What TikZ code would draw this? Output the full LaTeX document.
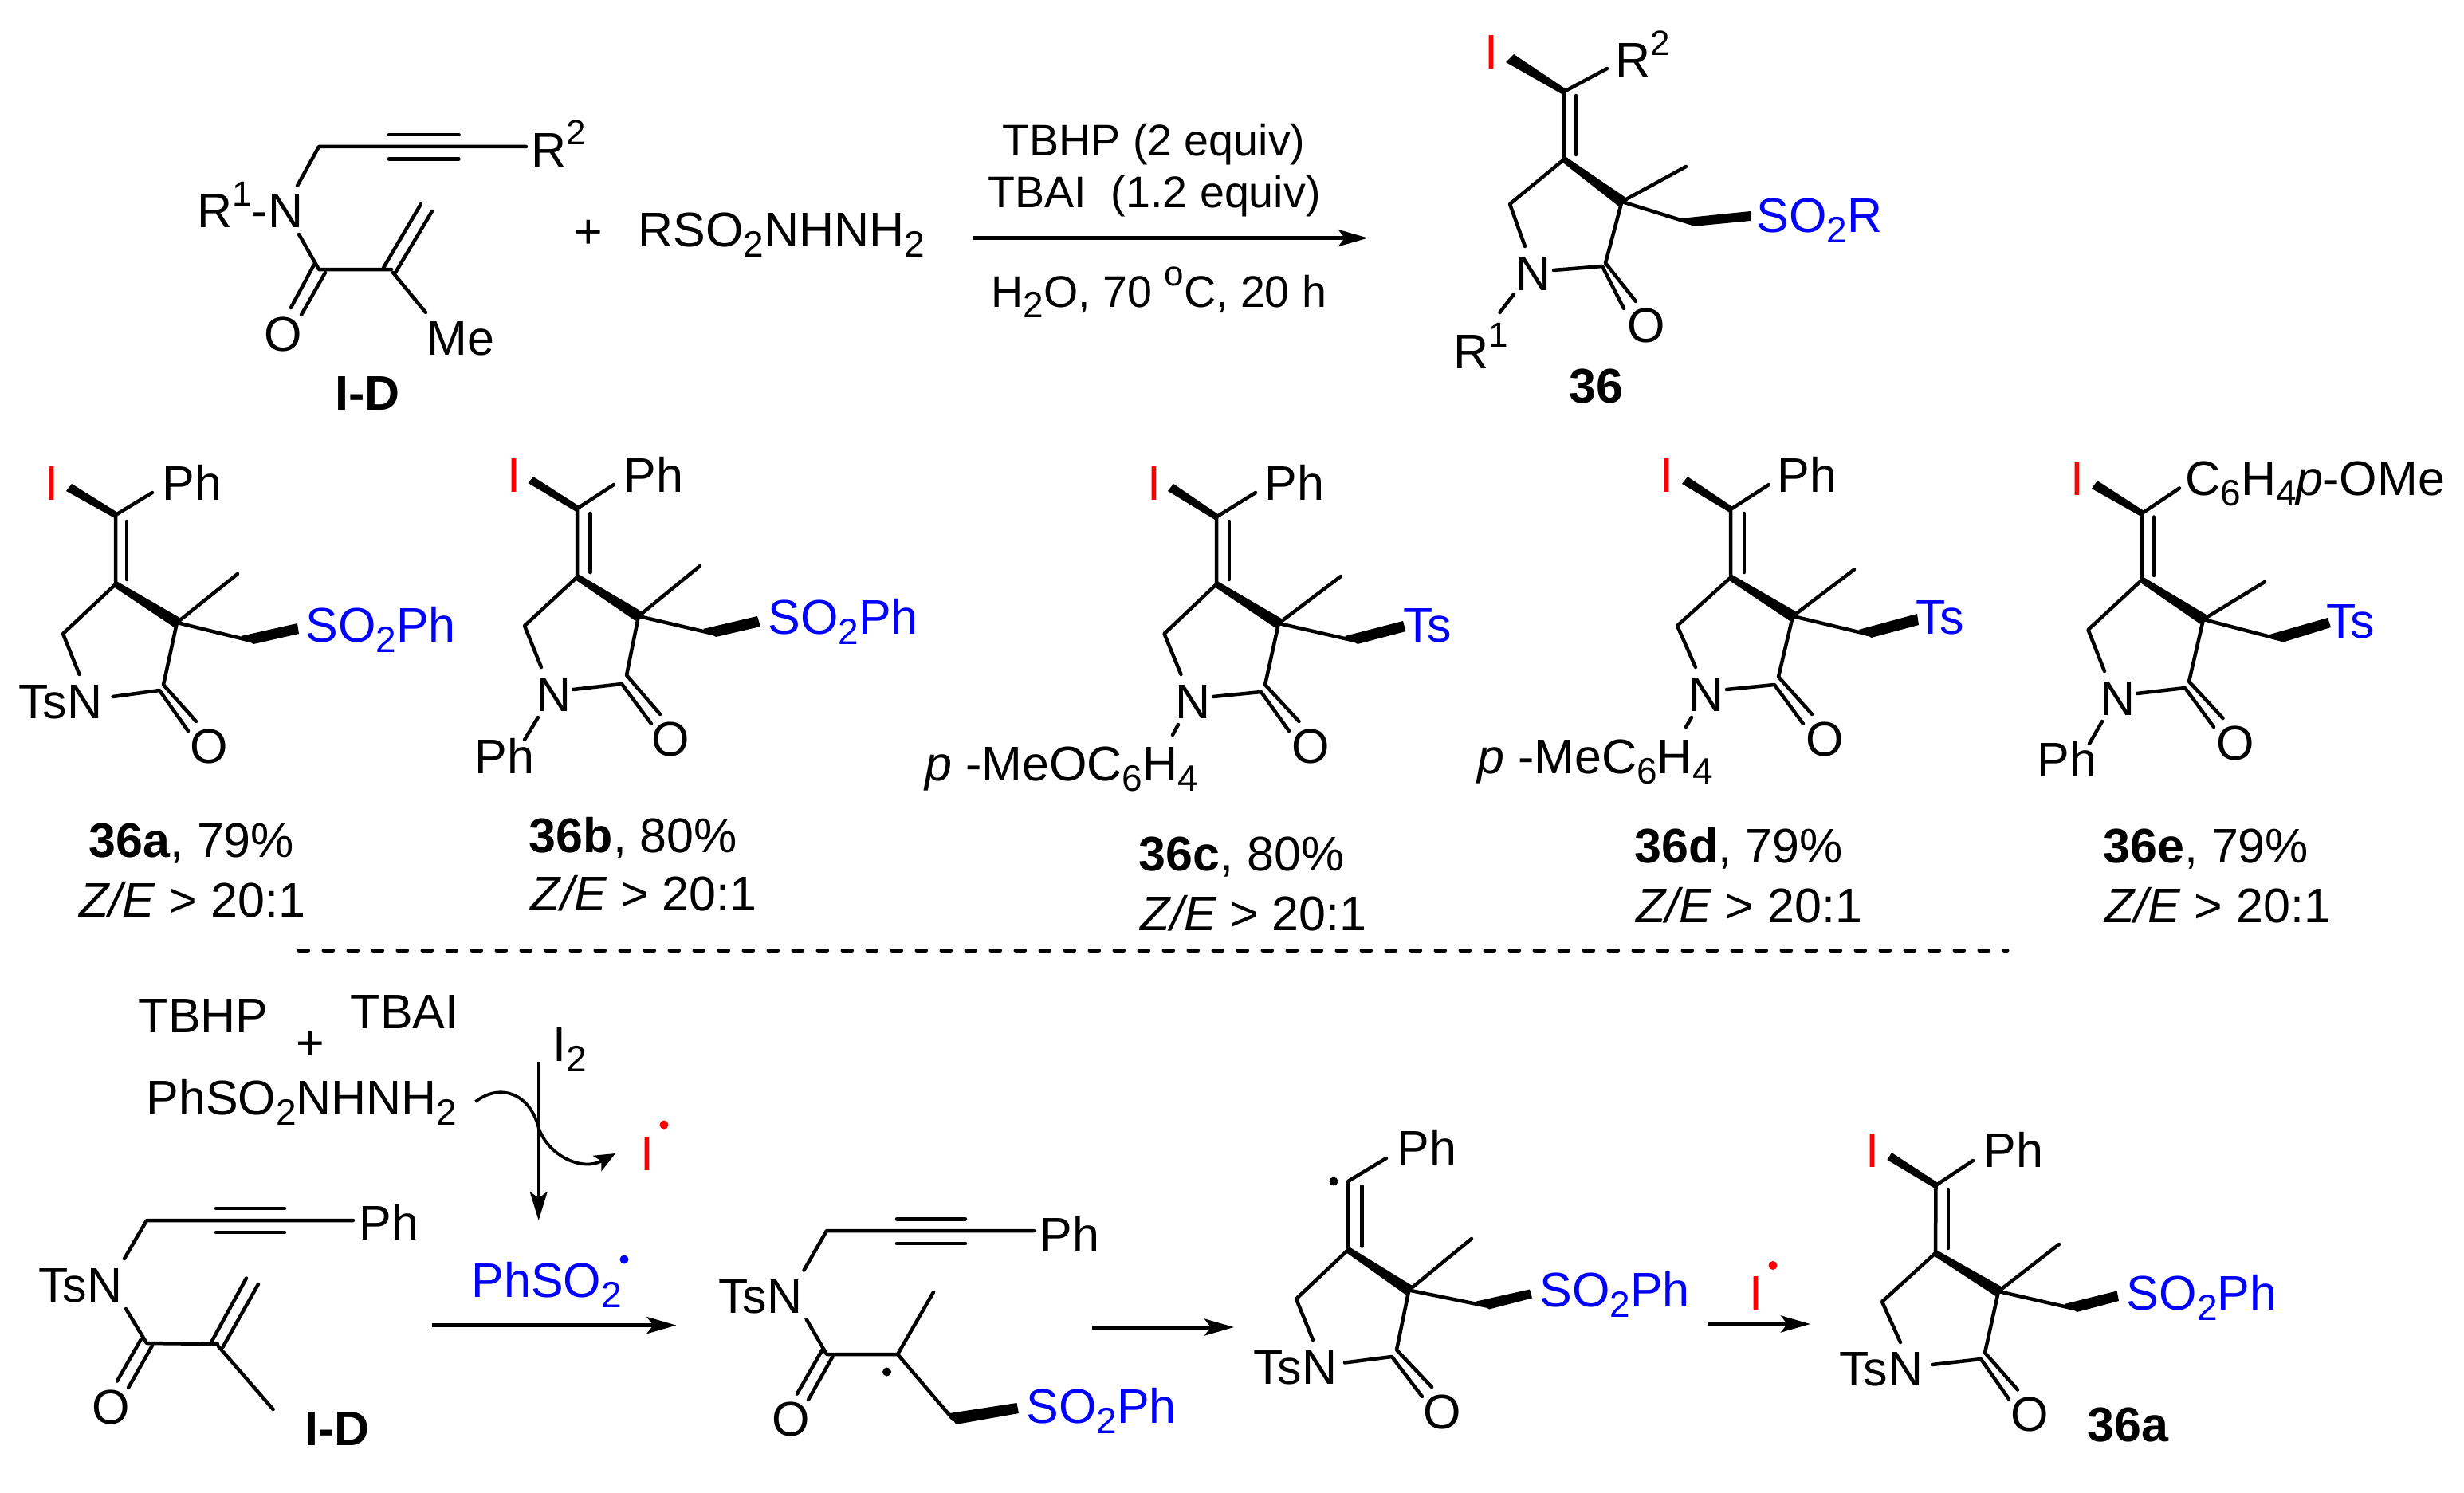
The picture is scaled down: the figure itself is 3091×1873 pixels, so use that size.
\documentclass[tikz,border=0pt]{standalone}
\usepackage{fontspec}
\setmainfont{Liberation Sans}
\usetikzlibrary{arrows.meta,calc}
\definecolor{chemblue}{RGB}{0,0,255}
\definecolor{chemred}{RGB}{255,0,0}
\newcommand\sbdn[1]{\raisebox{-6.5pt}{\fontsize{23}{23}\selectfont #1}}
\newcommand\sbup[1]{\raisebox{13.5pt}{\fontsize{22}{22}\selectfont #1}}
\newcommand\lab[4][]{\node[lbl,#1] (#2) at (#3) {#4};}
\newcommand\pts[2]{\foreach \n/\x/\y in {#2}{\coordinate (#1\n) at (\x,\y);}}
\newcommand\ringbonds[1]{%
  \draw[bond] (#1Ra) -- (#1Cv) -- (#1Cr) -- (#1Cl) -- (#1Nt);
  \draw[bond] (#1Da) -- (#1Db);
  \draw[bond] (#1Cq) -- (#1Cc) -- (#1Oa);
  \draw[bond] (#1Nr) -- (#1Cb) -- (#1Ob);
  \draw[bond] (#1Me) -- (#1Cq) -- (#1Cm);
  \fill ($(#1Cr)!2pt!90:(#1Cq)$) -- ($(#1Cq)!3.5pt!-90:(#1Cr)$) -- ($(#1Cq)!3.5pt!90:(#1Cr)$) -- ($(#1Cr)!2pt!-90:(#1Cq)$) -- cycle;
  \fill ($(#1Cm)+(-13,-6)$) -- (#1Wc) -- ($(#1Wd)+(0,-2)$) -- ($(#1Cm)+(3,4)$) -- cycle;
}
\newcommand\iw[1]{\fill ($(#1Cv)!2pt!90:(#1Wa)$) -- (#1Wa) -- (#1Wb) -- ($(#1Cv)!2pt!-90:(#1Wa)$) -- cycle;}
\tikzset{
  lbl/.style={anchor=base west,inner sep=0pt,xshift=-1pt,font=\fontsize{30.5}{36}\selectfont},
  rx/.style={font=\fontsize{27.8}{33}\selectfont},
  cen/.style={anchor=base,xshift=1pt},
  mid/.style={anchor=center,xshift=1pt},
  ze/.style={xshift=1pt},
  blu/.style={text=chemblue},
  rd/.style={text=chemred},
  bond/.style={line width=2.25pt,line cap=round,line join=round},
  rxnarrow/.style={line width=2.5pt,-{Stealth[length=18.5pt,width=10.5pt,inset=4pt]}},
  thinarrow/.style={line width=1.7pt,-{Stealth[length=18pt,width=11pt,inset=4pt]}},
  curvearrow/.style={line width=1.9pt,-{Stealth[length=13pt,width=11pt,inset=3pt]}},
  radical/.style={circle,inner sep=0pt,minimum size=5.5pt,fill=#1},
}
\begin{document}
\begin{tikzpicture}[x=0.5pt,y=-0.5pt]
\useasboundingbox (0,0) rectangle (3091,1873);
% ---------- top left I-D
\pts{s}{Na/373/233,Ca/400/184,Te/660/184,Tu/488/169,Tv/575.5/169,Tw/488/199.5,Tx/575.5/199.5,Nb/375/294,Cc/400/338,Cd/491/338,Ea/481/336,Eb/528/256,Ec/496/342,Ed/542/265,Mf/493/342,Mg/534/392,Oa/394/332,Ob/365/386,Oc/408/342,Od/378/395}
\draw[bond] (sNa) -- (sCa) -- (sTe);
\draw[bond] (sTu) -- (sTv); \draw[bond] (sTw) -- (sTx);
\draw[bond] (sNb) -- (sCc) -- (sCd);
\draw[bond] (sEa) -- (sEb); \draw[bond] (sEc) -- (sEd);
\draw[bond] (sMf) -- (sMg);
\draw[bond] (sOa) -- (sOb); \draw[bond] (sOc) -- (sOd);
\lab{sR}{668,209}{R\sbup{2}}
\lab{sN}{249,285.5}{R\sbup{1}-N}
\lab{sMe}{537,445}{Me}
\lab[mid]{sO}{355,419}{O}
\lab{sID}{422,514}{\textbf{I-D}}
\lab{plus}{722,311}{+}
\lab{rsh}{802,309}{RSO\sbdn{2}NHNH\sbdn{2}}
% ---------- reaction arrow
\lab[rx]{c1}{1259,195}{TBHP (2 equiv)}
\lab[rx]{c2}{1241,260}{TBAI\ \ (1.2 equiv)}
\lab[rx]{c3}{1245,385}{H\sbdn{2}O, 70 \sbup{o}C, 20 h}
\coordinate (a1s) at (1220,298.6); \coordinate (a1e) at (1716,298.6);
\draw[rxnarrow] (a1s) -- (a1e);
% ---------- 36
\pts{m}{Cv/1962/115,Wa/1889/78,Wb/1899/68,Ra/2016/86,Cr/1962/200,Da/1977/120,Db/1977/194,Cq/2034.5/253,Me/2115/209,Cm/2121/280,Wc/2196/265,Wd/2196/279,Cc/2014/330,Cl/1894/256,Nt/1913/309,Nr/1949/339,Cb/2010/334,Oa/2052/378,Ob/2037/387}
\ringbonds{m}\iw{m}
\coordinate (mNa) at (1899,369); \coordinate (mNb) at (1881.5,392);
\draw[bond] (mNa) -- (mNb);
\lab[rd]{mI}{1864,87}{I}
\lab{mR}{2028,97}{R\sbup{2}}
\lab[blu]{mS}{2205,291}{SO\sbdn{2}R}
\lab[cen]{mN}{1924,364}{N}
\lab[mid]{mO}{2065,408}{O}
\lab{mRa}{1825,462}{R\sbup{1}}
\lab{mL}{1970,505}{\textbf{36}}
% ---------- 36a
\pts{a}{Cv/145/646,Wa/83/616,Wb/90/607,Ra/191/618,Cr/145/733,Da/159/654,Db/159/727,Cq/222/781,Me/298/720,Cm/315/804,Wc/373/782,Wd/375/797,Cc/205/859,Cl/79/795,Nt/99.5/846,Nr/141.5/874,Cb/200/866,Oa/246/905,Ob/236/917}
\ringbonds{a}\iw{a}
\lab{aT}{25,901}{TsN}
\lab[mid]{aO}{262,936}{O}
\lab{aP}{205,627}{Ph}
\lab[rd,anchor=base]{aI}{67,627}{I}
\lab[blu]{aS}{385,805}{SO\sbdn{2}Ph}
\lab{aL}{113,1075}{\textbf{36a}, 79\%}
\lab[ze]{aZ}{99,1150}{\textit{Z/E} > 20:1}
% ---------- 36b
\pts{b}{Cv/724/638,Wa/662.5/606,Wb/669/598,Ra/770/608,Cr/724/724,Da/740.5/644,Db/740.5/718,Cq/801/773,Me/878/710,Cm/895/795,Wc/950/773,Wd/954/788,Cc/786/847,Cl/658/785,Nt/679/837,Nr/719/865,Cb/780/858,Oa/828/896,Ob/817/908}
\ringbonds{b}\iw{b}
\coordinate (bNa) at (675,900); \coordinate (bNb) at (658,928);
\draw[bond] (bNa) -- (bNb);
\lab[cen]{bN}{695,892}{N}
\lab{bPh}{597,970}{Ph}
\lab[mid]{bO}{841.5,927}{O}
\lab{bP}{784,617}{Ph}
\lab[rd,anchor=base]{bI}{646.5,617}{I}
\lab[blu]{bS}{965,795}{SO\sbdn{2}Ph}
\lab{bL}{665.5,1069}{\textbf{36b}, 80\%}
\lab[ze]{bZ}{665.5,1142}{\textit{Z/E} > 20:1}
% ---------- 36c
\pts{c}{Cv/1526/648.5,Wa/1465/616,Wb/1472/607,Ra/1575/618,Cr/1526/733,Da/1542/654,Db/1542/727,Cq/1604/782,Me/1682/723,Cm/1700/804,Wc/1760/779,Wd/1763.5/794,Cc/1587/859,Cl/1460.5/795,Nt/1481.5/846,Nr/1522/874,Cb/1582/868,Oa/1629.5/905,Ob/1617/917}
\ringbonds{c}\iw{c}
\coordinate (cNa) at (1478,909); \coordinate (cNb) at (1471,922);
\draw[bond] (cNa) -- (cNb);
\lab[cen]{cN}{1497,901}{N}
\lab{cAr}{1162,979}{\textit{p} -MeOC\sbdn{6}H\sbdn{4}}
\lab[mid]{cO}{1644,936}{O}
\lab{cP}{1588,627}{Ph}
\lab[rd,anchor=base]{cI}{1450,627}{I}
\lab[blu]{cS}{1762,805}{Ts}
\lab{cL}{1430.5,1092}{\textbf{36c}, 80\%}
\lab[ze]{cZ}{1430.5,1167}{\textit{Z/E} > 20:1}
% ---------- 36d
\pts{d}{Cv/2171/639,Wa/2110/607,Wb/2117/598,Ra/2219/608,Cr/2171/724.5,Da/2188/644,Db/2188/718,Cq/2249/773,Me/2326/714.5,Cm/2344.5/796,Wc/2405/770,Wd/2407/786,Cc/2231/849,Cl/2104/785,Nt/2127/837,Nr/2166/865,Cb/2226/859,Oa/2273/896,Ob/2262/908}
\ringbonds{d}\iw{d}
\coordinate (dNa) at (2122,900); \coordinate (dNb) at (2115,912);
\draw[bond] (dNa) -- (dNb);
\lab[cen]{dN}{2141,892}{N}
\lab{dAr}{1855,970}{\textit{p} -MeC\sbdn{6}H\sbdn{4}}
\lab[mid]{dO}{2289,927}{O}
\lab{dP}{2231,617}{Ph}
\lab[rd,anchor=base]{dI}{2092.5,617}{I}
\lab[blu]{dS}{2405,795}{Ts}
\lab{dL}{2052,1082.5}{\textbf{36d}, 79\%}
\lab[ze]{dZ}{2052,1157}{\textit{Z/E} > 20:1}
% ---------- 36e
\pts{e}{Cv/2687/644,Wa/2624/613,Wb/2631/603,Ra/2734/612.5,Cr/2687/727.5,Da/2702/648.5,Db/2702/722,Cq/2764/777,Me/2841/730,Cm/2860/802,Wc/2920/775,Wd/2924/789,Cc/2746/855,Cl/2619.5/790,Nt/2640/842,Nr/2681/870,Cb/2741/863,Oa/2788.5/901,Ob/2777/912}
\ringbonds{e}\iw{e}
\coordinate (eNa) at (2637,905); \coordinate (eNb) at (2621,933);
\draw[bond] (eNa) -- (eNb);
\lab[cen]{eN}{2656,897}{N}
\lab{ePh}{2557,974}{Ph}
\lab[mid]{eO}{2804,932}{O}
\lab{eP}{2743,621.6}{C\sbdn{6}H\sbdn{4}\textit{p}-OMe}
\lab[rd,anchor=base]{eI}{2608,621.6}{I}
\lab[blu]{eS}{2920,800}{Ts}
\lab{eL}{2640,1082.5}{\textbf{36e}, 79\%}
\lab[ze]{eZ}{2640,1157}{\textit{Z/E} > 20:1}
% ---------- divider
\coordinate (dva) at (375,1192); \coordinate (dvb) at (2518,1192);
\draw[line width=2.5pt,line cap=round,dash pattern=on 5.8pt off 9.7pt] (dva) -- (dvb);
% ---------- mechanism: reagents
\lab{tb}{175.5,1295}{TBHP}
\lab{ta}{441.5,1290}{TBAI}
\lab{pl}{373,1329}{+}
\lab{ph}{185,1398}{PhSO\sbdn{2}NHNH\sbdn{2}}
\lab{i2}{695.5,1331.5}{I\sbdn{2}}
\coordinate (vs) at (675.7,1332); \coordinate (ve) at (675.7,1531);
\draw[thinarrow] (vs) -- (ve);
\coordinate (cs) at (596.5,1382); \coordinate (cm) at (675.7,1415); \coordinate (ce) at (772,1447);
\draw[curvearrow] (cs) .. controls (628,1358) and (665,1372) .. (cm) .. controls (688,1450) and (730,1470) .. (ce);
\lab[rd,anchor=base]{ir}{814,1468}{I}
\node[radical=chemred] (ird) at (833,1411) {};
\lab[blu]{ps}{593,1627}{PhSO\sbdn{2}}
\node[radical=chemblue] (psd) at (783,1580) {};
\coordinate (a2s) at (542,1662.6); \coordinate (a2e) at (848.5,1662.6);
\draw[rxnarrow] (a2s) -- (a2e);
% ---------- mechanism: I-D
\pts{q}{Na/156/1579,Ca/184/1531,Te/443/1531,Tu/271/1516,Tv/357/1516,Tw/271/1546,Tx/357/1546,Nb/158/1642,Cc/184/1685,Cd/273/1686,Ea/265/1684,Eb/309/1603.5,Ec/279.5/1690,Ed/324/1611,Mf/274/1689,Mg/342.6/1768,Oa/177/1680,Ob/147/1732.5,Oc/191/1688,Od/161/1741}
\draw[bond] (qNa) -- (qCa) -- (qTe);
\draw[bond] (qTu) -- (qTv); \draw[bond] (qTw) -- (qTx);
\draw[bond] (qNb) -- (qCc) -- (qCd);
\draw[bond] (qEa) -- (qEb); \draw[bond] (qEc) -- (qEd);
\draw[bond] (qMf) -- (qMg);
\draw[bond] (qOa) -- (qOb); \draw[bond] (qOc) -- (qOd);
\lab{qP}{452,1555}{Ph}
\lab{qT}{50,1633}{TsN}
\lab[mid]{qO}{139,1765}{O}
\lab{qL}{384,1813}{\textbf{I-D}}
% ---------- mechanism: open radical
\pts{u}{Na/1008.5/1593.5,Ca/1037/1544,Te/1297/1544,Tu/1125/1529.4,Tv/1211/1529.4,Tw/1125/1560,Tx/1211/1560,Nb/1011.6/1655,Cc/1037/1699,Cd/1126/1699,Me/1171/1621,Cm/1196/1781,Wc/1275.5/1760,Wd/1278/1773,Oa/1031.5/1693.5,Ob/1000/1748.5,Oc/1044.5/1702,Od/1014/1756}
\draw[bond] (uNa) -- (uCa) -- (uTe);
\draw[bond] (uTu) -- (uTv); \draw[bond] (uTw) -- (uTx);
\draw[bond] (uNb) -- (uCc) -- (uCd) -- (uMe);
\draw[bond] (uCd) -- (uCm);
\draw[bond] (uOa) -- (uOb); \draw[bond] (uOc) -- (uOd);
\fill ($(uCm)+(-5,-8)$) -- (uWc) -- (uWd) -- ($(uCm)+(3,6)$) -- cycle;
\lab{uP}{1306,1570}{Ph}
\lab{uT}{903,1647}{TsN}
\lab[mid]{uO}{992,1780}{O}
\node[radical=black] (ud) at (1112.6,1721) {};
\lab[blu]{uS}{1289,1785}{SO\sbdn{2}Ph}
\coordinate (a3s) at (1369.6,1665); \coordinate (a3e) at (1548,1665);
\draw[rxnarrow] (a3s) -- (a3e);
% ---------- mechanism: vinyl radical
\pts{r}{Cv/1691/1482,Ra/1739/1453,Cr/1691/1568,Da/1708.5/1488,Db/1708.5/1563.5,Cq/1767.4/1618.5,Me/1846/1554,Cm/1865/1638.5,Wc/1919/1617.5,Wd/1922/1630.5,Cc/1752/1693.5,Cl/1626/1629.5,Nt/1647/1681,Nr/1687/1709.5,Cb/1746/1702,Oa/1796/1740,Ob/1784/1752}
\ringbonds{r}
\node[radical=black] (rd) at (1673,1482) {};
\lab{rT}{1574,1736}{TsN}
\lab[mid]{rO}{1809.5,1771}{O}
\lab{rP}{1754,1461}{Ph}
\lab[blu]{rS}{1933,1639.5}{SO\sbdn{2}Ph}
\coordinate (a4s) at (2143,1661); \coordinate (a4e) at (2271,1661);
\draw[rxnarrow] (a4s) -- (a4e);
\lab[rd,anchor=base]{fi}{2205,1643.5}{I}
\node[radical=chemred] (fid) at (2224,1587.5) {};
% ---------- mechanism: 36a
\pts{f}{Cv/2428.5/1487,Wa/2367.4/1455,Wb/2373/1446,Ra/2475/1456,Cr/2428/1572,Da/2444/1492,Db/2444/1566,Cq/2507/1620,Me/2583/1561,Cm/2602.5/1642,Wc/2655.6/1619.5,Wd/2658/1634,Cc/2490/1697,Cl/2361/1633,Nt/2384/1684,Nr/2424/1712,Cb/2485/1705,Oa/2531/1743.5,Ob/2520/1755}
\ringbonds{f}\iw{f}
\lab{fT}{2309,1738.5}{TsN}
\lab[mid]{fO}{2546,1774}{O}
\lab{fP}{2490,1464.4}{Ph}
\lab[rd,anchor=base]{fI}{2351,1464}{I}
\lab[blu]{fS}{2669.5,1643}{SO\sbdn{2}Ph}
\lab{fL}{2620,1808.6}{\textbf{36a}}
\end{tikzpicture}
\end{document}
